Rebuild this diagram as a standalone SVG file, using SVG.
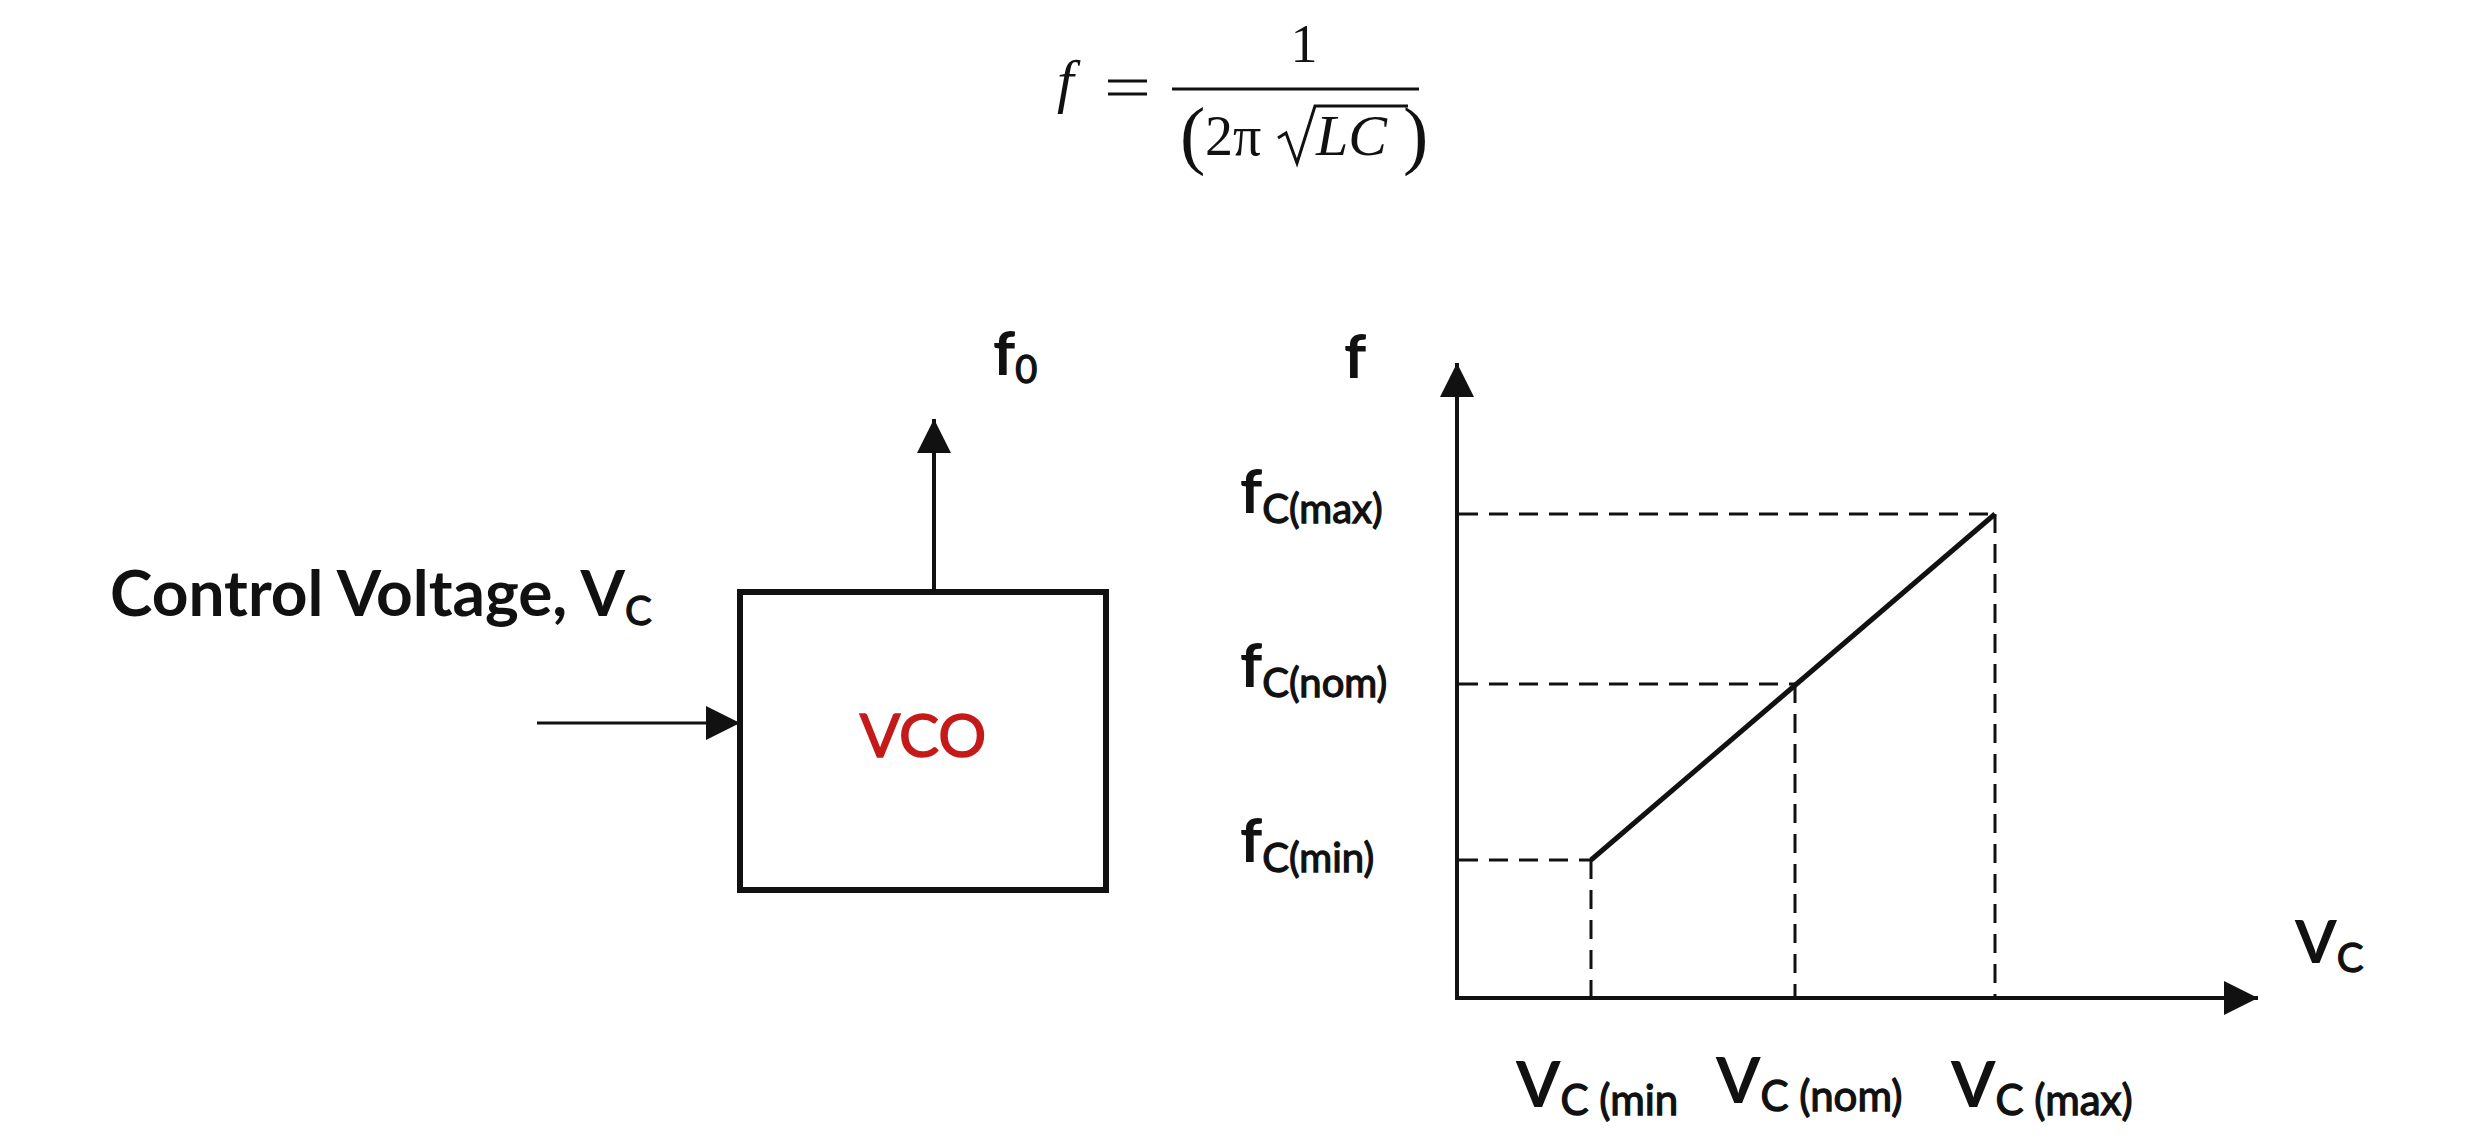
<svg xmlns="http://www.w3.org/2000/svg" width="2472" height="1148" viewBox="0 0 2472 1148">
<defs>
<style>
.b{font-family:Lato,"Open Sans",sans-serif;font-weight:bold;fill:#111;}
.s{font-family:Lato,"Open Sans",sans-serif;font-weight:normal;fill:#111;stroke:#111;stroke-width:1.3;}
.m{font-family:"Liberation Serif","DejaVu Serif",serif;fill:#111;}
.ln{stroke:#111;fill:none;}
.dash{stroke:#111;stroke-width:3;stroke-dasharray:19 11;fill:none;}
</style>
<marker id="ah" markerUnits="userSpaceOnUse" markerWidth="36" markerHeight="36" refX="34" refY="17" orient="auto">
<path d="M0,0 L34,17 L0,34 Z" fill="#111"/>
</marker>
</defs>
<rect width="2472" height="1148" fill="#fff"/>

<g id="formula">
<text class="m" x="1057" y="101" font-size="60" font-style="italic">f</text>
<line class="ln" x1="1108" y1="81" x2="1147" y2="81" stroke-width="3"/>
<line class="ln" x1="1108" y1="94" x2="1147" y2="94" stroke-width="3"/>
<line class="ln" x1="1172" y1="89" x2="1419" y2="89" stroke-width="3"/>
<text class="m" x="1304" y="62" font-size="54" text-anchor="middle">1</text>
<text class="m" x="1180" y="160" font-size="76">(</text>
<text class="m" x="1205" y="155" font-size="56">2π</text>
<path class="ln" d="M1278,138 L1286,133 L1297,163 L1315,106 L1408,106" stroke-width="3"/>
<text class="m" x="1316" y="155" font-size="58" font-style="italic">LC</text>
<text class="m" x="1403" y="160" font-size="76">)</text>
</g>

<g id="control-label">
<text class="b" x="110" y="616" font-size="64">Control Voltage, V<tspan class="s" font-size="40" dy="9">C</tspan></text>
</g>

<g id="vco">
<rect x="740" y="592" width="366" height="298" fill="none" stroke="#111" stroke-width="6"/>
<text x="923" y="757" font-family="Lato,'Open Sans',sans-serif" font-size="60" fill="#c41a1a" stroke="#c41a1a" stroke-width="1.5" text-anchor="middle">VCO</text>
</g>

<g id="f0-label">
<text class="b" x="993" y="375" font-size="62">f<tspan class="s" font-size="38" dy="8">0</tspan></text>
</g>

<g id="connectors">
<line class="ln" x1="537" y1="723" x2="740" y2="723" stroke-width="3" marker-end="url(#ah)"/>
<line class="ln" x1="934" y1="592" x2="934" y2="419" stroke-width="4" marker-end="url(#ah)"/>
</g>

<g id="graph">
<line class="ln" x1="1457" y1="1000" x2="1457" y2="363" stroke-width="4" marker-end="url(#ah)"/>
<line class="ln" x1="1455" y1="998" x2="2258" y2="998" stroke-width="4" marker-end="url(#ah)"/>
<line class="dash" x1="1459" y1="514" x2="1995" y2="514"/>
<line class="dash" x1="1459" y1="684" x2="1795" y2="684"/>
<line class="dash" x1="1459" y1="860" x2="1591" y2="860"/>
<line class="dash" x1="1591" y1="860" x2="1591" y2="996"/>
<line class="dash" x1="1795" y1="684" x2="1795" y2="996"/>
<line class="dash" x1="1995" y1="514" x2="1995" y2="996"/>
<line class="ln" x1="1591" y1="860" x2="1995" y2="514" stroke-width="5"/>
</g>

<g id="graph-labels">
<text class="b" x="1344" y="378" font-size="62">f</text>
<text class="b" x="1240" y="513" font-size="62">f<tspan class="s" font-size="40" dy="10">C(max)</tspan></text>
<text class="b" x="1240" y="687" font-size="62">f<tspan class="s" font-size="40" dy="10">C(nom)</tspan></text>
<text class="b" x="1240" y="862" font-size="62">f<tspan class="s" font-size="40" dy="10">C(min)</tspan></text>
<text class="b" x="2295" y="963" font-size="60">V<tspan class="s" font-size="40" dy="9">C</tspan></text>
<text class="b" x="1516" y="1107" font-size="64">V<tspan class="s" font-size="42" dy="8">C (min</tspan></text>
<text class="b" x="1716" y="1103" font-size="64">V<tspan class="s" font-size="42" dy="8">C (nom)</tspan></text>
<text class="b" x="1951" y="1107" font-size="64">V<tspan class="s" font-size="42" dy="8">C (max)</tspan></text>
</g>
</svg>
